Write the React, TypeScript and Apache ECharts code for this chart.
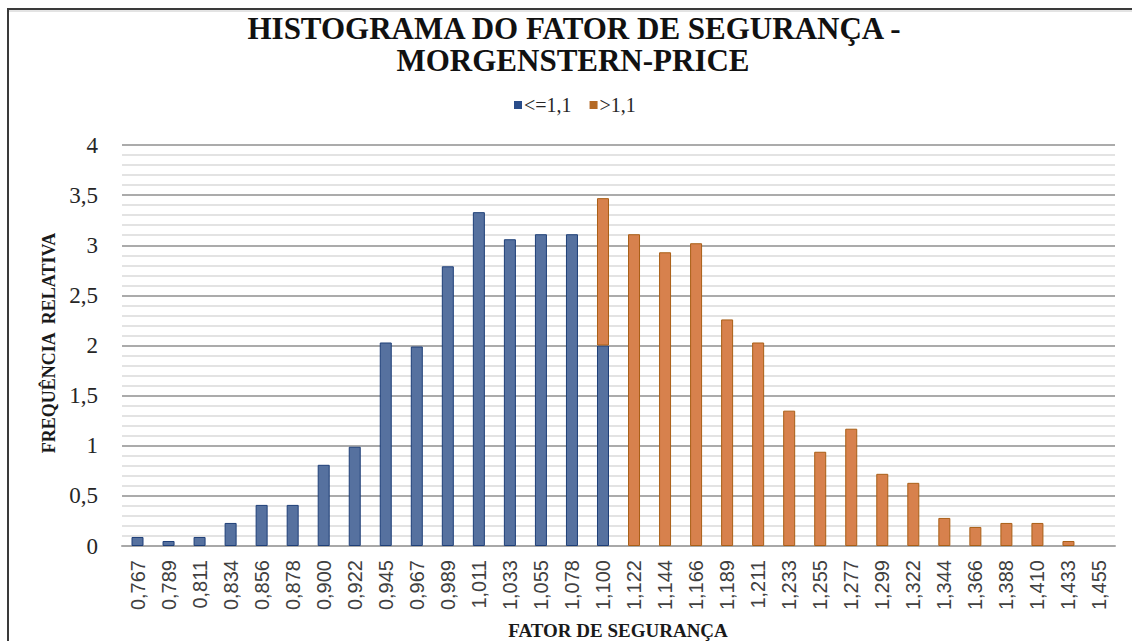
import React, { useEffect, useRef } from "react";
import * as echarts from "echarts";

const categories = [
  "0,767", "0,789", "0,811", "0,834", "0,856", "0,878", "0,900", "0,922",
  "0,945", "0,967", "0,989", "1,011", "1,033", "1,055", "1,078", "1,100",
  "1,122", "1,144", "1,166", "1,189", "1,211", "1,233", "1,255", "1,277",
  "1,299", "1,322", "1,344", "1,366", "1,388", "1,410", "1,433", "1,455",
];

// "<=1,1" series (first 16 bins)
const lowValues = [
  0.09, 0.05, 0.09, 0.23, 0.41, 0.41, 0.81, 0.99,
  2.03, 1.99, 2.79, 3.33, 3.06, 3.11, 3.11, 2.0,
];

// ">1,1" series (from bin 1,100 onwards)
const highValues = [
  1.47, 3.11, 2.93, 3.02, 2.26, 2.03, 1.35, 0.94, 1.17,
  0.72, 0.63, 0.28, 0.19, 0.23, 0.23, 0.05, 0,
];

const yTicks = { min: 0, max: 4, interval: 0.5 };

const lowData = categories.map((_, i) => (i < lowValues.length ? lowValues[i] : "-"));
const highStart = categories.length - highValues.length;
const highData = categories.map((_, i) => {
  if (i < highStart) return "-";
  const v = highValues[i - highStart];
  return v === 0 ? "-" : v;
});

export default function App() {
  const ref = useRef<HTMLDivElement>(null);
  useEffect(() => {
    if (!ref.current) return;
    const chart = echarts.init(ref.current, null, { renderer: "svg" });
    const serif = "Liberation Serif";
    chart.setOption({
      animation: false,
      backgroundColor: "#ffffff",
      grid: { left: 122, right: 17, top: 145, bottom: 95 },
      legend: {
        left: 509,
        top: 90,
        icon: "rect",
        itemWidth: 8,
        itemHeight: 8,
        itemGap: 18,
        textStyle: { fontFamily: serif, fontSize: 20, color: "#262626", padding: [0, 0, 0, -3] },
        data: [
          { name: "<=1,1", itemStyle: { color: "#2a4d8a", borderWidth: 0 } },
          { name: ">1,1", itemStyle: { color: "#b56a26", borderWidth: 0 } },
        ],
      },
      xAxis: {
        type: "category",
        data: categories,
        axisLine: { show: true, lineStyle: { color: "#a8a8a8", width: 2 } },
        axisTick: { show: false },
        axisLabel: {
          rotate: 90,
          margin: 14,
          interval: 0,
          fontFamily: "Liberation Sans",
          fontSize: 20,
          color: "#404040",
        },
        splitLine: { show: false },
      },
      yAxis: {
        type: "value",
        min: yTicks.min,
        max: yTicks.max,
        interval: yTicks.interval,
        axisLine: { show: false },
        axisTick: { show: false },
        minorTick: { show: false, splitNumber: 5 },
        minorSplitLine: { show: true, lineStyle: { color: "#dadada", width: 1.5 } },
        splitLine: { show: true, lineStyle: { color: "#ababab", width: 2 } },
        axisLabel: {
          margin: 24,
          fontFamily: serif,
          fontSize: 23,
          color: "#262626",
          formatter: (v: number) => String(v).replace(".", ","),
        },
      },
      series: [
        {
          name: "<=1,1",
          type: "bar",
          stack: "total",
          barWidth: 12,
          data: lowData,
          itemStyle: { color: "#56719f", borderColor: "#1e3f78", borderWidth: 1 },
        },
        {
          name: ">1,1",
          type: "bar",
          stack: "total",
          barWidth: 12,
          data: highData,
          itemStyle: { color: "#d7814d", borderColor: "#a95f16", borderWidth: 1 },
        },
      ],
      graphic: [
        { type: "line", shape: { x1: 7, y1: 9, x2: 1132, y2: 9 }, style: { stroke: "#3a3a3a", lineWidth: 2 } },
        { type: "line", shape: { x1: 8, y1: 9, x2: 8, y2: 641 }, style: { stroke: "#3a3a3a", lineWidth: 2 } },
        { type: "line", shape: { x1: 9, y1: 11, x2: 1132, y2: 11 }, style: { stroke: "#c8c8c8", lineWidth: 1 } },
        {
          type: "text",
          x: 574,
          y: 28,
          style: {
            text: "HISTOGRAMA DO FATOR DE SEGURANÇA -",
            fontFamily: serif,
            fontWeight: "bold",
            fontSize: 31,
            fill: "#111111",
            align: "center",
            verticalAlign: "middle",
          },
        },
        {
          type: "text",
          x: 573,
          y: 60,
          style: {
            text: "MORGENSTERN-PRICE",
            fontFamily: serif,
            fontWeight: "bold",
            fontSize: 31,
            fill: "#111111",
            align: "center",
            verticalAlign: "middle",
          },
        },
        {
          type: "text",
          x: 49,
          y: 343,
          rotation: Math.PI / 2,
          style: {
            text: "FREQUÊNCIA  RELATIVA",
            fontFamily: serif,
            fontWeight: "bold",
            fontSize: 18,
            fill: "#1a1a1a",
            align: "center",
            verticalAlign: "middle",
          },
        },
        {
          type: "text",
          x: 618,
          y: 630,
          style: {
            text: "FATOR DE SEGURANÇA",
            fontFamily: serif,
            fontWeight: "bold",
            fontSize: 19,
            fill: "#1a1a1a",
            align: "center",
            verticalAlign: "middle",
          },
        },
      ],
    });
    return () => chart.dispose();
  }, []);
  return (
    <div
      ref={ref}
      style={{ position: "absolute", left: 0, top: 0, width: 1132, height: 641 }}
    />
  );
}
